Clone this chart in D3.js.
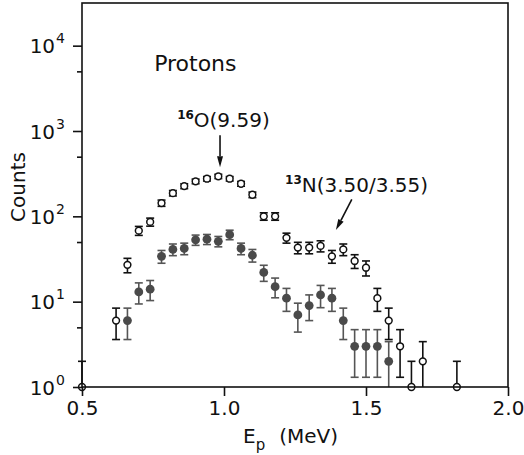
<!DOCTYPE html>
<html>
<head>
<meta charset="utf-8">
<script src="https://cdn.jsdelivr.net/npm/d3@7"></script>
<style>
  body { margin: 0; background: #fff; }
  svg text { font-family: "DejaVu Sans", "Liberation Sans", Arial, sans-serif; fill: #111; }
</style>
</head>
<body>
<div id="chart"></div>
<script>
// open circles
const openE = [0.5, 0.62, 0.66, 0.70, 0.74, 0.78, 0.82, 0.86, 0.90, 0.94, 0.98, 1.02, 1.06, 1.10, 1.14,
               1.18, 1.22, 1.26, 1.30, 1.34, 1.38, 1.42, 1.46, 1.50, 1.54, 1.58, 1.62, 1.66, 1.70, 1.82];
const openCounts = [1, 6, 27, 68, 86, 143, 187, 226, 257, 276, 294, 276, 241, 179, 100,
                    100, 56, 43, 43, 45, 34, 41, 30, 25, 11, 6, 3, 1, 2, 1];
const openErr = [1, 2.4, 5.2, 8.2, 9.3, 12, 13.7, 15, 16, 16.6, 17.1, 16.6, 15.5, 13.4, 10,
                 10, 7.5, 6.6, 6.6, 6.7, 5.8, 6.4, 5.5, 5, 3.3, 2.4, 1.7, 1, 1.4, 1];

// filled circles
const fullE = [0.66, 0.70, 0.74, 0.78, 0.82, 0.86, 0.90, 0.94, 0.98, 1.02, 1.06, 1.10,
               1.14, 1.18, 1.22, 1.26, 1.30, 1.34, 1.38, 1.42, 1.46, 1.50, 1.54, 1.58];
const fullCounts = [6, 13, 14, 34, 41, 42, 53, 54, 51, 61, 42, 35,
                    22, 15, 11, 7, 9, 12, 11, 6, 3, 3, 3, 2];
const fullErr = [2.4, 3.6, 3.7, 5.8, 6.4, 6.5, 7.3, 7.3, 7.1, 7.8, 6.5, 5.9,
                 4.7, 3.9, 3.3, 2.6, 3, 3.5, 3.3, 2.4, 1.7, 1.7, 1.7, 1.4];

const xTicks = [0.5, 1.0, 1.5, 2.0];
const yMajor = [1, 10, 100, 1000, 10000];
const yMinor = [5, 50, 500, 5000];

const W = 524, H = 455;
const margin = {left: 82, top: 3, right: 16, bottom: 68};

const svg = d3.select("#chart").append("svg").attr("width", W).attr("height", H);

const x = d3.scaleLinear().domain([0.5, 2.0]).range([margin.left, W - margin.right]);
const y = d3.scaleLog().domain([1, Math.pow(10, 4.5)]).range([H - margin.bottom, margin.top]);
const yc = v => y(Math.max(1, v)); // clip at axis

function drawSeries(es, counts, errs, opts) {
    const g = svg.append("g");
    const data = es.map((e, i) => ({e: e, c: counts[i], s: errs[i]}));
    const bars = g.selectAll("g.err").data(data).enter().append("g")
        .attr("stroke", opts.barColor).attr("stroke-width", 1.6);
    bars.append("line")
        .attr("x1", d => x(d.e)).attr("x2", d => x(d.e))
        .attr("y1", d => yc(d.c + d.s)).attr("y2", d => yc(d.c - d.s));
    bars.append("line")
        .attr("x1", d => x(d.e) - 4).attr("x2", d => x(d.e) + 4)
        .attr("y1", d => yc(d.c + d.s)).attr("y2", d => yc(d.c + d.s));
    bars.filter(d => d.c - d.s > 1).append("line")
        .attr("x1", d => x(d.e) - 4).attr("x2", d => x(d.e) + 4)
        .attr("y1", d => yc(d.c - d.s)).attr("y2", d => yc(d.c - d.s));
    g.selectAll("circle").data(data).enter().append("circle")
        .attr("cx", d => x(d.e)).attr("cy", d => y(d.c))
        .attr("r", opts.r)
        .attr("fill", opts.fill)
        .attr("stroke", opts.stroke)
        .attr("stroke-width", opts.sw);
}

drawSeries(fullE, fullCounts, fullErr, {barColor: "#555", r: 4.4, fill: "#4a4a4a", stroke: "none", sw: 0});
drawSeries(openE, openCounts, openErr, {barColor: "#111", r: 3.4, fill: "#fff", stroke: "#111", sw: 1.5});

// frame + axes
const x0 = margin.left, x1 = W - margin.right, y0 = H - margin.bottom, y1 = margin.top;
svg.append("rect").attr("x", x0).attr("y", y1).attr("width", x1 - x0).attr("height", y0 - y1)
    .attr("fill", "none").attr("stroke", "#111").attr("stroke-width", 1.6);

const xAxis = svg.append("g").attr("transform", `translate(0,${y0})`)
    .call(d3.axisBottom(x).tickValues(xTicks).tickFormat(d3.format(".1f")).tickSize(9).tickPadding(5));
xAxis.select(".domain").remove();
xAxis.selectAll("line").attr("stroke", "#111").attr("stroke-width", 1.6);
xAxis.selectAll("text").attr("font-size", 20).attr("fill", "#111")
    .style("font-family", "'DejaVu Sans', sans-serif");

const yAxis = svg.append("g").attr("transform", `translate(${x0},0)`)
    .call(d3.axisLeft(y).tickValues(yMajor).tickSize(9).tickFormat(""));
yAxis.select(".domain").remove();
yAxis.selectAll("line").attr("stroke", "#111").attr("stroke-width", 1.6);

const yMin = svg.append("g").attr("transform", `translate(${x0},0)`)
    .call(d3.axisLeft(y).tickValues(yMinor).tickSize(5).tickFormat(""));
yMin.select(".domain").remove();
yMin.selectAll("line").attr("stroke", "#111").attr("stroke-width", 1.6);

// power-of-ten labels
yMajor.forEach(v => {
    const t = svg.append("text").attr("x", 65).attr("y", y(v) + 7.5)
        .attr("text-anchor", "end").attr("font-size", 20);
    t.append("tspan").text("10");
    t.append("tspan").attr("dy", -10).attr("font-size", 14).attr("dx", 1).text(Math.round(Math.log10(v)));
});

// axis titles
svg.append("text").attr("transform", `translate(25,187) rotate(-90)`)
    .attr("text-anchor", "middle").attr("font-size", 20).text("Counts");

const xl = svg.append("text").attr("x", 243).attr("y", 443).attr("font-size", 20);
xl.append("tspan").text("E");
xl.append("tspan").attr("dy", 7).attr("font-size", 15).text("p");
xl.append("tspan").attr("dy", -7).attr("dx", 14).text("(MeV)");

// annotations
svg.append("text").attr("x", x(0.754)).attr("y", y(5100)).attr("font-size", 22).text("Protons");

const a1 = svg.append("text").attr("x", x(0.835)).attr("y", y(1100)).attr("font-size", 20);
a1.append("tspan").attr("font-size", 12).attr("font-weight", "bold").attr("dy", -8).text("16");
a1.append("tspan").attr("dy", 8).text("O(9.59)");

const a2 = svg.append("text").attr("x", x(1.215)).attr("y", y(192)).attr("font-size", 20);
a2.append("tspan").attr("font-size", 12).attr("font-weight", "bold").attr("dy", -8).text("13");
a2.append("tspan").attr("dy", 8).text("N(3.50/3.55)");

function arrow(xa, ya, xb, yb) {
    const ax = x(xa), ay = y(ya), bx = x(xb), by = y(yb);
    const ang = Math.atan2(by - ay, bx - ax);
    const len = 11, half = 3;
    const hx = bx - len * Math.cos(ang), hy = by - len * Math.sin(ang);
    svg.append("line").attr("x1", ax).attr("y1", ay).attr("x2", hx).attr("y2", hy)
        .attr("stroke", "#111").attr("stroke-width", 1.6);
    const px = -Math.sin(ang) * half, py = Math.cos(ang) * half;
    svg.append("path")
        .attr("d", `M${bx},${by}L${hx + px},${hy + py}L${hx - px},${hy - py}Z`)
        .attr("fill", "#111");
}
arrow(0.986, 890, 0.986, 375);
arrow(1.45, 158, 1.394, 69);
</script>
</body>
</html>
